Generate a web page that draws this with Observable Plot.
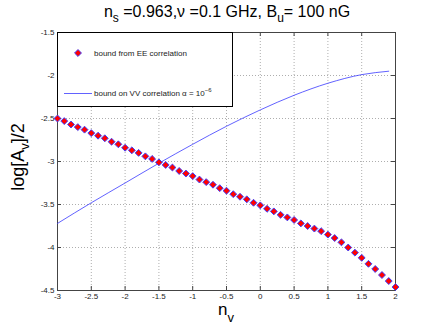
<!DOCTYPE html>
<html><head><meta charset="utf-8">
<script src="https://cdn.jsdelivr.net/npm/d3@7"></script>
<script src="https://cdn.jsdelivr.net/npm/@observablehq/plot@0.6"></script>
<style>body{margin:0;background:#fff;} svg{font-family:"Liberation Sans",Arial,sans-serif;}</style>
</head><body>
<script>
const nv = [-3.0,-2.9,-2.8,-2.7,-2.6,-2.5,-2.4,-2.3,-2.2,-2.1,-2.0,-1.9,-1.8,-1.7,-1.6,-1.5,-1.4,-1.3,-1.2,-1.1,-1.0,-0.9,-0.8,-0.7,-0.6,-0.5,-0.4,-0.3,-0.2,-0.1,0.0,0.1,0.2,0.3,0.4,0.5,0.6,0.7,0.8,0.9,1.0,1.1,1.2,1.3,1.4,1.5,1.6,1.7,1.8,1.9,2.0];
const logA_EE = [-2.50,-2.53,-2.57,-2.60,-2.63,-2.67,-2.70,-2.73,-2.77,-2.80,-2.84,-2.87,-2.90,-2.94,-2.97,-3.01,-3.04,-3.07,-3.11,-3.14,-3.17,-3.21,-3.24,-3.27,-3.31,-3.34,-3.38,-3.41,-3.44,-3.48,-3.51,-3.55,-3.58,-3.62,-3.65,-3.68,-3.72,-3.75,-3.78,-3.81,-3.85,-3.89,-3.94,-4.00,-4.06,-4.12,-4.19,-4.25,-4.32,-4.39,-4.46];
const nvLine = [-3.0,-2.5,-2.0,-1.5,-1.0,-0.5,0.0,0.5,1.0,1.5,1.9];
const logA_VV = [-3.72,-3.48,-3.25,-3.02,-2.80,-2.59,-2.40,-2.23,-2.09,-1.99,-1.95];
const xTicks = [-3,-2.5,-2,-1.5,-1,-0.5,0,0.5,1,1.5,2];
const yTicks = [-4.5,-4,-3.5,-3,-2.5,-2,-1.5];
const legendLabels = ["bound from EE correlation", "bound on VV correlation α = 10", "−6"];

const ee = nv.map((x,i)=>({x, y: logA_EE[i]}));
const vv = nvLine.map((x,i)=>({x, y: logA_VV[i]}));

const W = 437, H = 327, mL = 57, mR = 42, mT = 32, mB = 37;
const fw = W - mL - mR, fh = H - mT - mB;
const innerX = xTicks.slice(1,-1), innerY = yTicks.slice(1,-1);

const svg = Plot.plot({
  width: W, height: H,
  marginLeft: mL, marginRight: mR, marginTop: mT, marginBottom: mB,
  style: {fontFamily: "Liberation Sans, Arial, sans-serif", fontSize: "8px", color: "#222", background: "#fff"},
  x: {domain: [-3, 2], ticks: xTicks, tickFormat: d => String(d), label: null},
  y: {domain: [-4.5, -1.5], ticks: yTicks, tickFormat: d => String(d), label: null},
  marks: [
    Plot.ruleX(innerX, {x: d => d, stroke: "#999", strokeDasharray: "1,2", strokeWidth: 0.8}),
    Plot.ruleY(innerY, {y: d => d, stroke: "#999", strokeDasharray: "1,2", strokeWidth: 0.8}),
    Plot.axisX({ticks: xTicks, tickSize: 0, tickPadding: 3, tickFormat: d => String(d), fill: "#222"}),
    Plot.axisY({ticks: yTicks, tickSize: 0, tickPadding: 3, tickFormat: d => String(d), fill: "#222"}),
    Plot.ruleX(xTicks, {x: d => d, insetTop: fh - 4, stroke: "#444"}),
    Plot.ruleX(xTicks, {x: d => d, insetBottom: fh - 4, stroke: "#444"}),
    Plot.ruleY(yTicks, {y: d => d, insetRight: fw - 4, stroke: "#444"}),
    Plot.ruleY(yTicks, {y: d => d, insetLeft: fw - 4, stroke: "#444"}),
    Plot.frame({stroke: "#444", strokeWidth: 1}),
    Plot.line(vv, {x: "x", y: "y", stroke: "#3a3aff", strokeWidth: 0.8, curve: "monotone-x"}),
    Plot.dot(ee, {x: "x", y: "y", symbol: "diamond2", r: 3.1, fill: "red", stroke: "#4040ff", strokeWidth: 1})
  ]
});
document.body.appendChild(svg);

const s = d3.select(svg);
// title
const t = s.append("text").attr("x", 227).attr("y", 17).attr("text-anchor", "middle")
  .attr("font-size", 16).attr("fill", "#000");
t.append("tspan").text("n");
t.append("tspan").attr("dy", 5).attr("font-size", 12).text("s");
t.append("tspan").attr("dy", -5).text(" =0.963,ν =0.1 GHz, B");
t.append("tspan").attr("dy", 5).attr("font-size", 12).text("u");
t.append("tspan").attr("dy", -5).text("= 100 nG");
// x label
const xl = s.append("text").attr("x", 218).attr("y", 315).attr("text-anchor", "start").attr("font-size", 17).attr("fill", "#000");
xl.append("tspan").text("n");
xl.append("tspan").attr("dy", 7).attr("font-size", 13).text("v");
// y label
const yl = s.append("text").attr("transform", "translate(24,157) rotate(-90)").attr("text-anchor", "middle")
  .attr("font-size", 18).attr("fill", "#000");
yl.append("tspan").text("log[A");
yl.append("tspan").attr("dy", 5).attr("font-size", 13).text("v");
yl.append("tspan").attr("dy", -5).text("]/2");
// legend
const lg = s.append("g").attr("text-anchor", "start");
lg.append("rect").attr("x", 57.5).attr("y", 32.5).attr("width", 175).attr("height", 74)
  .attr("fill", "#fff").attr("stroke", "#000").attr("stroke-width", 1);
const sym = d3.symbol(d3.symbolDiamond2, Math.PI * 3.1 * 3.1)();
lg.append("path").attr("d", sym).attr("transform", "translate(78,53)").attr("fill", "red").attr("stroke", "#4040ff");
lg.append("text").attr("x", 94).attr("y", 56).attr("font-size", 8).attr("fill", "#222").text(legendLabels[0]);
lg.append("line").attr("x1", 64).attr("x2", 92).attr("y1", 93.5).attr("y2", 93.5).attr("stroke", "#3a3aff").attr("stroke-width", 0.8);
const lt = lg.append("text").attr("x", 94).attr("y", 96).attr("font-size", 8).attr("fill", "#222");
lt.append("tspan").text(legendLabels[1]);
lt.append("tspan").attr("dy", -4).attr("font-size", 6).text(legendLabels[2]);
</script>
</body></html>
